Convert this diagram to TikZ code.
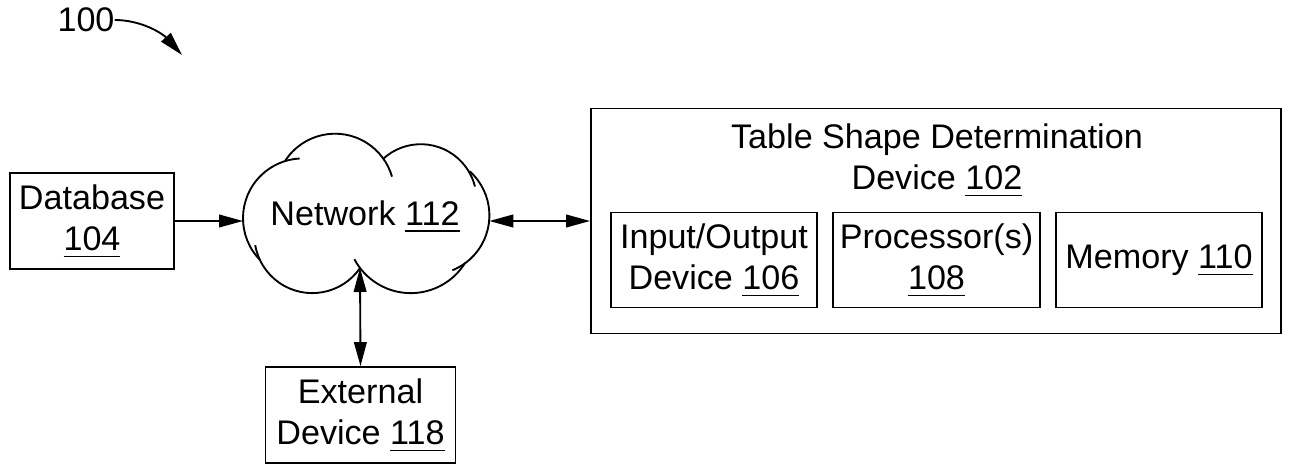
\documentclass[tikz,border=0pt]{standalone}
\usepackage{fontspec}
\setmainfont{Liberation Sans}
\usetikzlibrary{arrows.meta}
\newcommand\myul[1]{\setbox0=\hbox{#1}\rlap{\rule[-5pt]{\wd0}{1.1pt}}\box0}
\newcommand\puff[5]{\draw[ln] (#1,-#2) ++(#4:#3*0.75pt) arc[start angle=#4,end angle=#5,radius=#3*0.75pt];}
\tikzset{
  px/.style={x=0.75pt,y=0.75pt},
  ln/.style={line width=1.4pt},
  boxnode/.style={draw,ln,rectangle,inner sep=0pt,align=center,font=\fontsize{25.6}{31}\selectfont},
  txt/.style={inner sep=0pt,align=center,font=\fontsize{25.6}{31}\selectfont},
  tip/.style={-{Triangle[length=18pt,width=9.5pt]}},
  dtip/.style={{Triangle[length=18pt,width=9.5pt]}-{Triangle[length=18pt,width=9.5pt]}},
}
\begin{document}
\begin{tikzpicture}[px]
\useasboundingbox (0,0) rectangle (1289,-464);
% label 100
\node[txt] (lbl) at (86,-20) {100};
\coordinate (tgt) at (182,-55);
\draw[ln,tip] (lbl.east) .. controls (142,-20) and (163,-34) .. (tgt);

% database
\node[boxnode,minimum width=164*0.75pt,minimum height=96*0.75pt] (db) at (92,-221) {Database\\\myul{104}};

% cloud (puffs: centre x, centre y (down), radius, start, end)
\puff{302.8}{218.2}{59.8}{224.3}{93}
\puff{335}{193}{59.3}{147.4}{16}
\puff{420.8}{200}{55.8}{132.7}{14}
\puff{430.2}{215.4}{59.2}{48.2}{-68}
\puff{410.8}{229.2}{63.9}{-32}{-152}
\puff{312.3}{235.1}{58}{-34.6}{-170}
\node[txt] (net) at (365,-216) {Network \myul{112}};
\coordinate (netW) at (243,-221);
\coordinate (netE) at (489.3,-221);
\coordinate (netS) at (360,-268);

% external device
\node[boxnode,minimum width=190*0.75pt,minimum height=96*0.75pt] (ext) at (360.5,-415) {External\\Device \myul{118}};

% table shape determination device
\node[draw,ln,rectangle,inner sep=0pt,minimum width=690*0.75pt,minimum height=225*0.75pt] (tsd) at (936,-221) {};
\node[txt] (title) at (937,-160) {Table Shape Determination\\Device \myul{102}};
\node[boxnode,minimum width=206*0.75pt,minimum height=95*0.75pt] (io) at (714,-260) {Input/Output\\Device \myul{106}};
\node[boxnode,minimum width=207*0.75pt,minimum height=95*0.75pt] (proc) at (936.5,-260) {Processor(s)\\\myul{108}};
\node[boxnode,minimum width=206*0.75pt,minimum height=95*0.75pt] (mem) at (1159,-260) {Memory \myul{110}};

% connectors
\draw[ln,tip] (db.east) -- (netW);
\draw[ln,dtip] (netE) -- (tsd.west);
\draw[ln,dtip] (netS) -- (ext.north);
\end{tikzpicture}
\end{document}
